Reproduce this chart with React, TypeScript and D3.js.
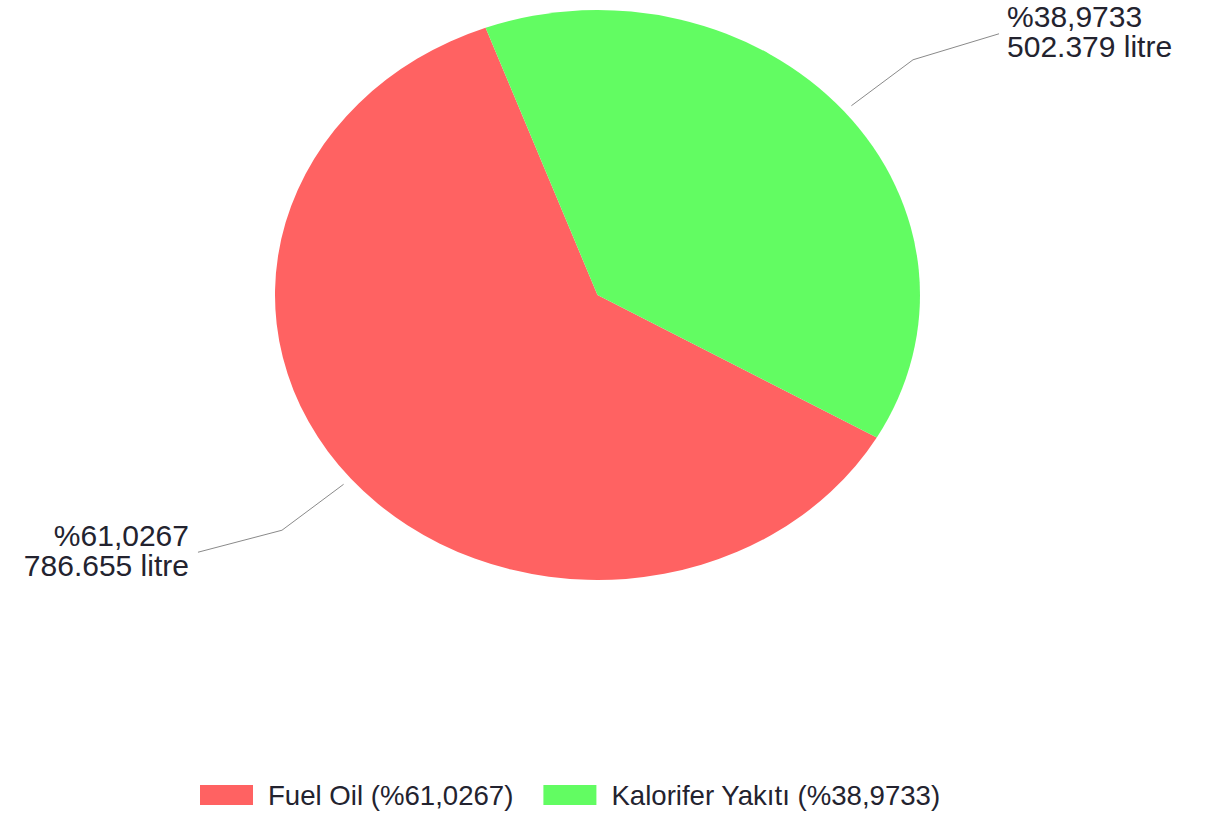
import React, { useEffect, useRef } from "react";
import * as d3 from "d3";

const categories = ["Fuel Oil", "Kalorifer Yakıtı"];
const litres = ["786.655", "502.379"];
const percents = [61.0267, 38.9733];
const percentLabels = ["%61,0267", "%38,9733"];
const colors = ["#ff6262", "#62fc62"];

const W = 1210;
const H = 816;
const CX = 597.5;
const CY = 295;
const RX = 322.5;
const RY = 285;
const START_DEG = 120;

export default function App() {
  const legendRef = useRef<SVGGElement>(null);

  const pie = d3
    .pie<number>()
    .sort(null)
    .value((d) => d)
    .startAngle((START_DEG * Math.PI) / 180)
    .endAngle((START_DEG * Math.PI) / 180 + 2 * Math.PI);
  const arcs = pie(percents);
  const arc = d3.arc<d3.PieArcDatum<number>>().innerRadius(0).outerRadius(RX);

  const pt = (a: number, r: number) => [CX + RX * r * Math.sin(a), CY - RY * r * Math.cos(a)];

  useEffect(() => {
    const g = legendRef.current;
    if (!g) return;
    const items = Array.from(g.querySelectorAll<SVGGElement>("g.item"));
    let x = 200;
    items.forEach((it) => {
      it.setAttribute("transform", `translate(${x},0)`);
      const t = it.querySelector("text") as SVGTextElement;
      x += 68 + t.getComputedTextLength() + 30;
    });
  }, []);

  return (
    <svg width={W} height={H} style={{ display: "block", position: "absolute", left: 0, top: 0, background: "#fff" }}
      fontFamily="'Liberation Sans', Arial, sans-serif">
      <rect width={W} height={H} fill="#fff" />
      <g transform={`translate(${CX},${CY}) scale(1,${RY / RX})`}>
        {arcs.map((a, i) => (
          <path key={i} d={arc(a) || ""} fill={colors[i]} />
        ))}
      </g>
      {arcs.map((a, i) => {
        const mid = (a.startAngle + a.endAngle) / 2;
        const right = Math.sin(mid) > 0;
        const p0 = pt(mid, 1.03);
        const p1 = pt(mid, 1.28);
        const p2 = [p1[0] + (right ? 86 : -84), p1[1] + (right ? -26 : 22)];
        const tx = right ? p2[0] + 8 : p2[0] - 9;
        const ty = right ? p2[1] - 7 : p2[1] - 6;
        return (
          <g key={i}>
            <polyline points={[p0, p1, p2].map((p) => p.join(",")).join(" ")} fill="none" stroke="#8a8a8a" strokeWidth={1} />
            <text x={tx} y={ty} fontSize={30} fill="#23232f" textAnchor={right ? "start" : "end"}>
              <tspan x={tx} y={ty}>{percentLabels[i]}</tspan>
              <tspan x={tx} y={ty + 30}>{`${litres[i]} litre`}</tspan>
            </text>
          </g>
        );
      })}
      <g ref={legendRef} transform="translate(0,785)">
        {categories.map((c, i) => (
          <g className="item" key={i}>
            <rect x={0} y={0} width={53} height={20} fill={colors[i]} />
            <text x={68} y={20} fontSize={27.6} fill="#23232f">{`${c} (${percentLabels[i]})`}</text>
          </g>
        ))}
      </g>
    </svg>
  );
}
